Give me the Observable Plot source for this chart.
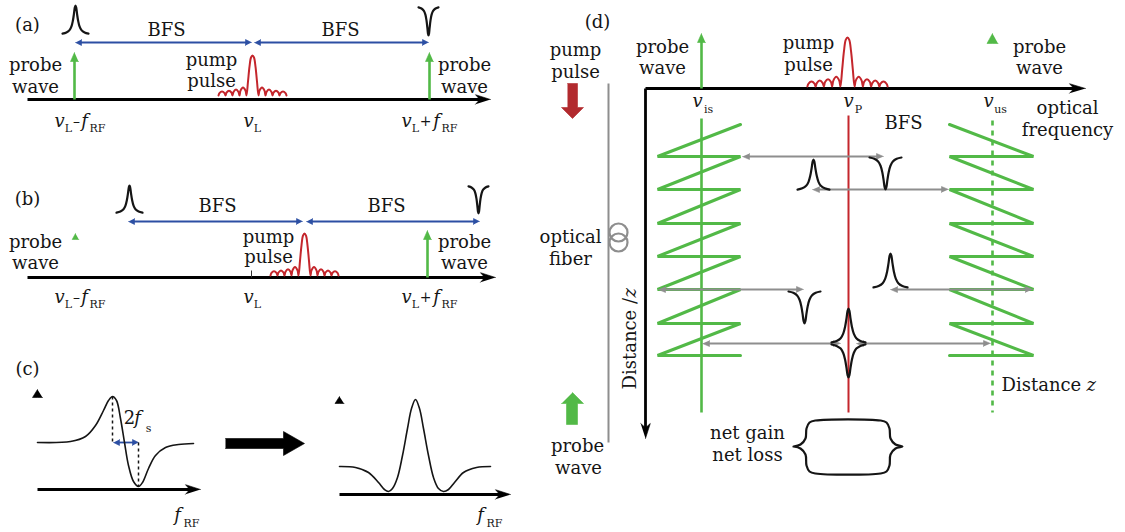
<!DOCTYPE html>
<html><head><meta charset="utf-8">
<script src="https://cdn.jsdelivr.net/npm/d3@7"></script>
<script src="https://cdn.jsdelivr.net/npm/@observablehq/plot@0.6"></script>
<style>html,body{margin:0;padding:0;background:#fff}#chart svg{display:block}</style>
</head><body><div id="chart"></div>
<script>
// ---------- diagram data (diagram units = pixels of the 1125x532 frame) ----------
const W = 1125, H = 532;
const FONT = "DejaVu Serif";
const ink = "#151515", green = "#52b947", red = "#c4262c", darkRed = "#b22a2e", blue = "#2c4fa3", gray = "#8e8e8e";

// frequency / distance axes: [x1, y1, x2(tip), y2(tip), direction]
const axes = [
  [27, 99, 490, 99, "r"], [27, 277, 495, 277, "r"],
  [37, 489, 200, 489, "r"], [339, 494, 510, 494, "r"],
  [645, 88, 1085, 88, "r"], [645, 88, 645, 438, "d"]
];
// probe wave arrows (x, base y, tip y)
const probeArrows = [[74, 99, 52], [429, 99, 52], [427, 277, 230], [701, 88, 33]];
// suppressed probe markers (x, tip y, size)
const probeMarks = [[75, 233, 6], [992, 33, 10]];
// BFS double arrows (x left, x right, y)
const bfsArrows = [[75, 251, 42], [254, 428, 42], [128, 302, 221], [306, 479, 221], [113, 138, 442]];
// gray double arrows in (d)
const grayArrows = [[742, 883, 156], [812, 948, 189], [658, 803, 289], [890, 1032, 289], [702, 840, 343], [856, 990, 343]];
// pump pulse instances (centre, base, height, x-stretch)
const pumpPulses = [[252, 95, 40, 1], [304, 275, 42, 1], [847, 86, 49, 1.18]];
// sinc-like pulse profile (offset px, relative height)
const pulseProfile = [[-34,0],[-33,0.06],[-30.5,0.1],[-28,0.06],[-27,0],[-26,0.07],[-23.5,0.12],[-21,0.07],[-20,0],[-19,0.09],[-16.5,0.15],[-14,0.09],[-13,0],[-12,0.12],[-9.5,0.2],[-7,0.12],[-6,0],[-4.5,0.35],[-3,0.72],[-1.5,0.95],[0,1],[1.5,0.95],[3,0.72],[4.5,0.35],[6,0],[7,0.12],[9.5,0.2],[12,0.12],[13,0],[14,0.09],[16.5,0.15],[19,0.09],[20,0],[21,0.07],[23.5,0.12],[26,0.07],[27,0],[28,0.06],[30.5,0.1],[33,0.06],[34,0]];
// Brillouin gain (+) / loss (-) spectra: centre, base, height, half width
const spectra = [
  [75, 34, 29, 13], [428, 6, -29, 10], [129, 213, 28, 13], [478, 185, -28, 10],
  [813, 190, 31, 16], [885, 156, -33, 16], [804, 290, -33, 16], [890, 288, 35, 17],
  [848, 343, 35, 17], [848, 343, -34, 17]
];
const lineProfile = [[-1,0.03],[-0.7,0.07],[-0.46,0.15],[-0.31,0.28],[-0.2,0.48],[-0.12,0.71],[-0.05,0.94],[0,1],[0.05,0.94],[0.12,0.71],[0.2,0.48],[0.31,0.28],[0.46,0.15],[0.7,0.07],[1,0.03]];
// (c) measured responses
const dispersive = [[37,442],[70,441],[85,436],[95,425],[103,410],[108,400],[112,396],[116,400],[120,418],[124,442],[128,465],[133,481],[138,486],[142,482],[148,468],[155,455],[165,447],[178,444],[193,443]];
const combined = [[339,466],[355,467],[368,472],[378,482],[384,489],[388,491],[392,488],[397,477],[402,455],[407,428],[411,408],[415,399],[419,408],[423,428],[428,455],[433,477],[438,488],[443,491],[448,489],[454,482],[463,472],[476,467],[490,466]];
const dashedGuides = [[112, 396, 112, 442], [138, 442, 138, 486]];
const axisMarks = [[37, 389, 8, 5], [339, 396, 7, 4.5]];
// (d) fibre geometry
const zigTop = 124;
const zigLevels = [156, 189, 223, 256, 289, 323, 355];
const zigLeft = [657, 740], zigRight = [949, 1033];
const greenSolid = [[701, 118, 701, 412]];
const greenDashed = [[992, 120, 992, 412]];
const pumpLine = [[848, 115, 848, 412]];
const fiberLine = [[608, 83, 608, 442]];
const smallTick = [[251, 270, 251, 277]];
const fiberLoops = [[618, 232], [618, 242]];
const brace = [[793,446],[800,444],[805,438],[806,428],[809,422],[815,420],[880,420],[886,422],[889,428],[890,438],[895,444],[902,446],[895,448],[890,454],[889,465],[886,471],[880,473],[815,473],[809,471],[806,465],[805,454],[800,448],[793,446]];
const bigArrow = [[225,438],[283,438],[283,431],[304,443],[283,455],[283,448],[225,448]];
const pumpDown = [[567,83],[577,83],[577,107],[583,107],[572,118],[561,107],[567,107]];
const probeUp = [[572,392],[583,403],[577,403],[577,424],[566,424],[566,403],[561,403]];

// text
const words = [
  ["(a)",27,25],["BFS",166,30],["BFS",340,30],["probe",35,65],["wave",35,87],["pump",211,60],["pulse",211,81],["probe",464,65],["wave",464,87],
  ["(b)",27,199],["BFS",217,206],["BFS",386,206],["probe",35,242],["wave",35,263],["pump",268,237],["pulse",268,257],["probe",464,242],["wave",464,263],
  ["(c)",27,369],
  ["(d)",597,22],["pump",575,50],["pulse",575,72],["probe",662,47],["wave",662,68],["pump",808,43],["pulse",808,65],["probe",1039,47],["wave",1039,68],
  ["optical",1067,108],["frequency",1067,130],["BFS",903,123],["optical",570,237],["fiber",570,259],["probe",577,446],["wave",578,468],
  ["net gain",747,433],["net loss",747,455]
];
const wordsStart = [["Distance ",1001,385]];
const italicStart = [["z",1086,385]];
const rotatedWords = [["Distance /",630,389]];
const rotatedItalic = [["z",630,297]];
const mathVars = [["v",59,121],["f",84,121],["v",248,121],["v",406,121],["f",436,121],
  ["v",59,297],["f",84,297],["v",248,297],["v",406,297],["f",436,297],
  ["f",137,418],["f",177,515],["f",480,515],["v",697,101],["v",848,101],["v",988,101]];
const operators = [["\u2013",76,121],["+",425,121],["\u2013",76,297],["+",425,297]];
const digits = [["2",129,418]];
const subscripts = [["L",68,128],["RF",97,128],["L",257,128],["L",415,128],["RF",449,128],
  ["L",68,304],["RF",97,304],["L",257,304],["L",415,304],["RF",449,304],
  ["s",148,428],["RF",191,523],["RF",494,523],["is",708,109],["P",858,109],["us",1000,109]];

// ---------- helpers to assemble mark data ----------
function head(tx, ty, dir, len, hw, notch) {
  const f = {r:[1,0], l:[-1,0], u:[0,-1], d:[0,1]}[dir];
  const p = [-f[1], f[0]];
  const pt = (u, v) => [tx + u*f[0] + v*p[0], ty + u*f[1] + v*p[1]];
  return [pt(0,0), pt(-len,-hw), pt(-len*notch,0), pt(-len,hw)];
}
let pid = 0;
const toPoly = (pts) => { const id = pid++; return pts.map(([x, y]) => ({id, x, y})); };
const seg = (a) => ({x1:a[0], y1:a[1], x2:a[2], y2:a[3]});

const blackPolys = [], bluePolys = [], grayPolys = [], greenPolys = [], redPolys = [];
const axisSegs = axes.map(([x1,y1,x2,y2,d]) => {
  blackPolys.push(...toPoly(head(x2, y2, d, d === "r" && x2 > 1000 ? 16 : 15, 4.8, 0.72)));
  return d === "r" ? {x1, y1, x2: x2 - 10, y2} : {x1, y1, x2, y2: y2 - 10};
});
const probeSegs = probeArrows.map(([x, y0, yt]) => { greenPolys.push(...toPoly(head(x, yt, "u", 9, 4, 1))); return {x1:x, y1:y0, x2:x, y2:yt+7}; });
probeMarks.forEach(([x, yt, s]) => greenPolys.push(...toPoly(head(x, yt, "u", s, s*0.55, 1))));
axisMarks.forEach(([x, yt, s, hw]) => blackPolys.push(...toPoly(head(x, yt, "u", s, hw, 1))));
const bfsSegs = bfsArrows.map(([a, b, y]) => {
  bluePolys.push(...toPoly(head(a, y, "l", 6, 3, 1)), ...toPoly(head(b, y, "r", 6, 3, 1)));
  return {x1:a+4, y1:y, x2:b-4, y2:y};
});
const graySegs = grayArrows.map(([a, b, y]) => {
  grayPolys.push(...toPoly(head(a, y, "l", 7, 3, 1)), ...toPoly(head(b, y, "r", 7, 3, 1)));
  return {x1:a+4, y1:y, x2:b-4, y2:y};
});
blackPolys.push(...toPoly(bigArrow));
redPolys.push(...toPoly(pumpDown));
greenPolys.push(...toPoly(probeUp));

const pulsePts = pumpPulses.flatMap(([cx, base, h, sx], i) => pulseProfile.map(([u, r]) => ({id:i, x: cx + u*sx, y: base - r*h})));
const spectraPts = spectra.flatMap(([cx, base, h, w], i) => lineProfile.map(([u, r]) => ({id:i, x: cx + u*w, y: base - r*h})));
const zigPts = [];
[[zigLeft, 0], [zigRight, 1]].forEach(([[xa, xb], k]) => {
  const far = k === 0 ? xb : xa, near = k === 0 ? xa : xb;
  zigPts.push({id:k, x: far, y: zigTop});
  zigLevels.forEach(L => { zigPts.push({id:k, x: near, y: L}); zigPts.push({id:k, x: far, y: L}); });
});
const curvePts = [...dispersive.map(([x,y]) => ({id:0,x,y})), ...combined.map(([x,y]) => ({id:1,x,y}))];
const bracePts = brace.map(([x,y]) => ({x,y}));

const polyMark = (data, color) => Plot.line(data, {x:"x", y:"y", z:"id", fill: color, stroke: color, strokeWidth: 0.6, curve: "linear"});
const textOpts = (extra) => ({x: d => d[1], y: d => d[2], text: d => d[0], fontFamily: FONT, fill: ink, ...extra});

const chart = Plot.plot({
  width: W, height: H, margin: 0,
  x: {domain: [0, W], range: [0, W], axis: null},
  y: {domain: [0, H], range: [0, H], axis: null},
  style: {background: "#fff"},
  marks: [
    // (d) fibre and lines
    Plot.link(fiberLine.map(seg), {x1:"x1", y1:"y1", x2:"x2", y2:"y2", stroke: gray, strokeWidth: 2}),
    Plot.dot(fiberLoops, {x: d => d[0], y: d => d[1], r: 9, stroke: gray, strokeWidth: 2.2, fill: "none"}),
    Plot.line(zigPts, {x:"x", y:"y", z:"id", stroke: green, strokeWidth: 3, curve: "linear", strokeLinejoin: "miter"}),
    Plot.link(greenSolid.map(seg), {x1:"x1", y1:"y1", x2:"x2", y2:"y2", stroke: green, strokeWidth: 2.6}),
    Plot.link(greenDashed.map(seg), {x1:"x1", y1:"y1", x2:"x2", y2:"y2", stroke: green, strokeWidth: 2.6, strokeDasharray: "5,5"}),
    Plot.link(pumpLine.map(seg), {x1:"x1", y1:"y1", x2:"x2", y2:"y2", stroke: red, strokeWidth: 2}),
    Plot.link(graySegs, {x1:"x1", y1:"y1", x2:"x2", y2:"y2", stroke: gray, strokeWidth: 2}),
    polyMark(grayPolys, gray),
    // axes
    Plot.link(axisSegs, {x1:"x1", y1:"y1", x2:"x2", y2:"y2", stroke: "#000", strokeWidth: 2.8}),
    Plot.link(smallTick.map(seg), {x1:"x1", y1:"y1", x2:"x2", y2:"y2", stroke: "#333", strokeWidth: 1}),
    polyMark(blackPolys, "#000"),
    // probe and BFS arrows
    Plot.link(probeSegs, {x1:"x1", y1:"y1", x2:"x2", y2:"y2", stroke: green, strokeWidth: 2.6}),
    polyMark(greenPolys, green),
    Plot.link(bfsSegs, {x1:"x1", y1:"y1", x2:"x2", y2:"y2", stroke: blue, strokeWidth: 1.8}),
    polyMark(bluePolys, blue),
    polyMark(redPolys, darkRed),
    // pulses and spectra
    Plot.line(pulsePts, {x:"x", y:"y", z:"id", stroke: red, strokeWidth: 2, curve: "catmull-rom"}),
    Plot.line(spectraPts, {x:"x", y:"y", z:"id", stroke: ink, strokeWidth: 2.2, curve: "catmull-rom"}),
    // (c)
    Plot.line(curvePts, {x:"x", y:"y", z:"id", stroke: ink, strokeWidth: 1.6, curve: "catmull-rom"}),
    Plot.link(dashedGuides.map(seg), {x1:"x1", y1:"y1", x2:"x2", y2:"y2", stroke: ink, strokeWidth: 1.5, strokeDasharray: "3,3"}),
    // brace
    Plot.line(bracePts, {x:"x", y:"y", stroke: ink, strokeWidth: 2.2, curve: "catmull-rom"}),
    // text
    Plot.text(words, textOpts({fontSize: 18})),
    Plot.text(wordsStart, textOpts({fontSize: 18, textAnchor: "start"})),
    Plot.text(italicStart, textOpts({fontSize: 18, textAnchor: "start", fontStyle: "italic"})),
    Plot.text(rotatedWords, textOpts({fontSize: 18, textAnchor: "start", rotate: -90})),
    Plot.text(rotatedItalic, textOpts({fontSize: 18, textAnchor: "start", rotate: -90, fontStyle: "italic"})),
    Plot.text(mathVars, textOpts({fontSize: 18, fontStyle: "italic"})),
    Plot.text(operators, textOpts({fontSize: 14})),
    Plot.text(digits, textOpts({fontSize: 18})),
    Plot.text(subscripts, textOpts({fontSize: 11}))
  ]
});
document.getElementById("chart").appendChild(chart);
</script></body></html>
